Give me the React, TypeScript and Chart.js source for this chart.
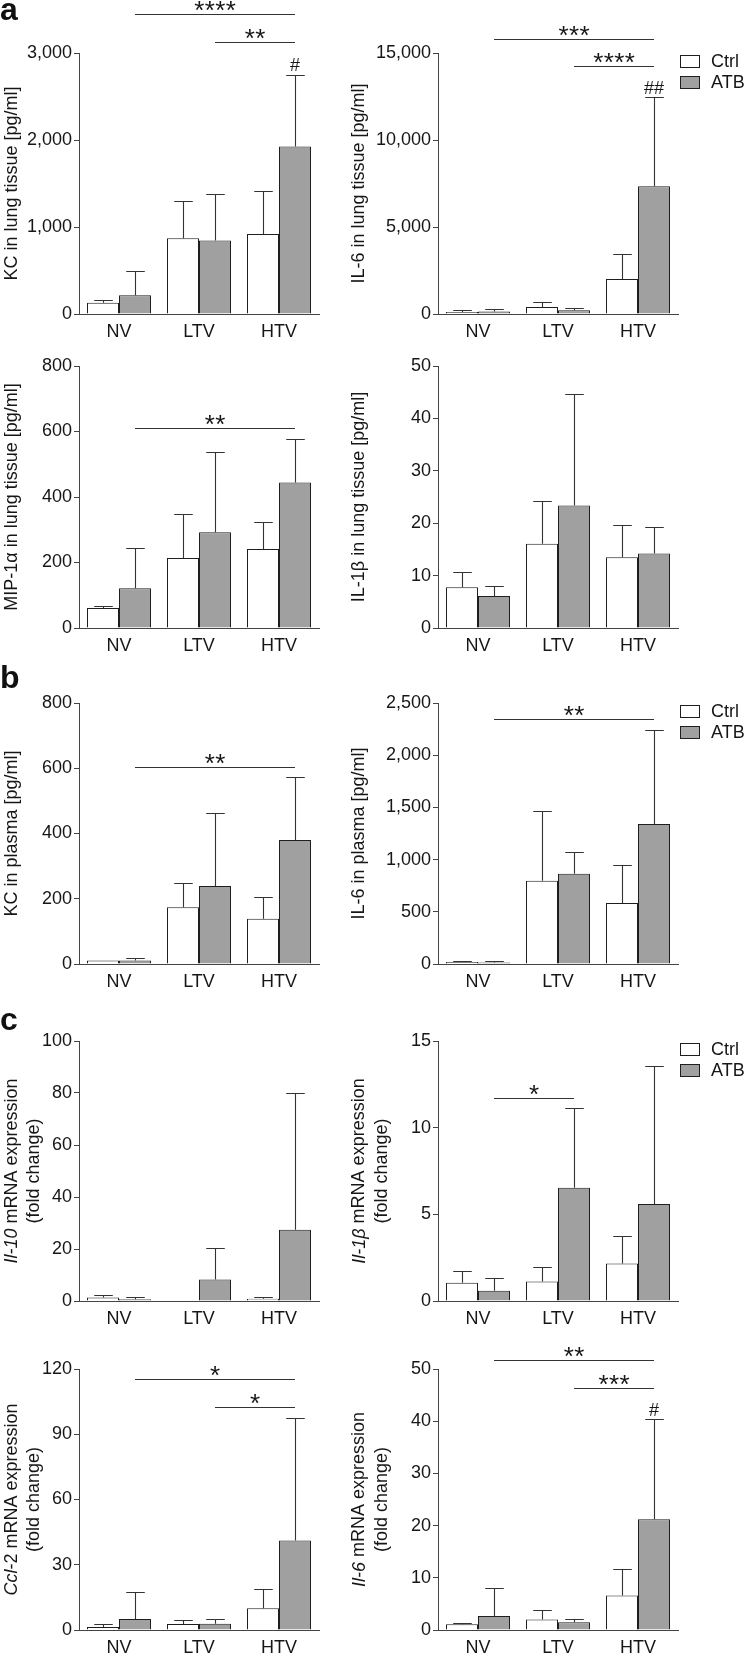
import React, { useEffect, useRef } from 'react';
import { Chart, registerables } from 'chart.js';

Chart.register(...registerables);

// ---------- data ----------
const categories = ['NV', 'LTV', 'HTV'];
const seriesLabels = ['Ctrl', 'ATB'];

// a: KC in lung tissue (bar = mean, top = mean + SD)
const kcLungCtrl = [130, 870, 920];
const kcLungCtrlTop = [160, 1300, 1410];
const kcLungAtb = [215, 845, 1925];
const kcLungAtbTop = [500, 1385, 2750];
const kcLungSig = [{ from: 0, to: 2, at: 3450, stars: 4 }, { from: 1, to: 2, at: 3125, stars: 2 }];

// a: IL-6 in lung tissue
const il6LungCtrl = [115, 400, 2010];
const il6LungCtrlTop = [230, 670, 3450];
const il6LungAtb = [150, 210, 7340];
const il6LungAtbTop = [290, 345, 12450];
const il6LungSig = [{ from: 0, to: 2, at: 15800, stars: 3 }, { from: 1, to: 2, at: 14250, stars: 4 }];

// a: MIP-1α in lung tissue
const mipLungCtrl = [61, 214, 241];
const mipLungCtrlTop = [66, 347, 324];
const mipLungAtb = [121, 292, 444];
const mipLungAtbTop = [243, 538, 578];
const mipLungSig = [{ from: 0, to: 2, at: 611, stars: 2 }];

// a: IL-1β in lung tissue
const il1bLungCtrl = [7.8, 16.1, 13.5];
const il1bLungCtrlTop = [10.6, 24.3, 19.7];
const il1bLungAtb = [6.1, 23.4, 14.2];
const il1bLungAtbTop = [8.1, 44.7, 19.3];

// b: KC in plasma
const kcPlasmaCtrl = [11, 174, 139];
const kcPlasmaCtrlTop = [13, 249, 206];
const kcPlasmaAtb = [11, 239, 380];
const kcPlasmaAtbTop = [17, 464, 572];
const kcPlasmaSig = [{ from: 0, to: 2, at: 604, stars: 2 }];

// b: IL-6 in plasma
const il6PlasmaCtrl = [18, 798, 584];
const il6PlasmaCtrlTop = [30, 1466, 951];
const il6PlasmaAtb = [15, 865, 1341];
const il6PlasmaAtbTop = [25, 1070, 2245];
const il6PlasmaSig = [{ from: 0, to: 2, at: 2347, stars: 2 }];

// c: Il-10 mRNA
const il10MrnaCtrl = [1.3, 0.15, 0.9];
const il10MrnaCtrlTop = [2.2, 0.15, 1.5];
const il10MrnaAtb = [0.7, 8.3, 27.4];
const il10MrnaAtbTop = [1.5, 20.3, 80.0];

// c: Il-1β mRNA
const il1bMrnaCtrl = [1.05, 1.13, 2.16];
const il1bMrnaCtrlTop = [1.74, 1.99, 3.74];
const il1bMrnaAtb = [0.59, 6.53, 5.59];
const il1bMrnaAtbTop = [1.34, 11.13, 13.54];
const il1bMrnaSig = [{ from: 0, to: 1, at: 11.7, stars: 1 }];

// c: Ccl-2 mRNA
const ccl2MrnaCtrl = [1.4, 2.8, 10.0];
const ccl2MrnaCtrlTop = [2.6, 4.6, 18.9];
const ccl2MrnaAtb = [5.1, 2.9, 41.2];
const ccl2MrnaAtbTop = [17.6, 4.9, 97.3];
const ccl2MrnaSig = [{ from: 0, to: 2, at: 115.4, stars: 1 }, { from: 1, to: 2, at: 102.5, stars: 1 }];

// c: Il-6 mRNA
const il6MrnaCtrl = [1.1, 2.0, 6.6];
const il6MrnaCtrlTop = [1.4, 3.9, 11.7];
const il6MrnaAtb = [2.7, 1.5, 21.2];
const il6MrnaAtbTop = [8.0, 2.2, 40.4];
const il6MrnaSig = [{ from: 0, to: 2, at: 51.7, stars: 2 }, { from: 1, to: 2, at: 46.4, stars: 3 }];

// ---------- styles / layout ----------
const FONT = '"Liberation Sans", Arial, Helvetica, sans-serif';
const TEXT = '#161616';
const AXIS = '#444444';
const EDGE = '#1e1e1e';
const ERR = '#333333';
const ATB_FILL = '#a0a0a0';
const CTRL_FILL = '#ffffff';

type Seg = { t: string; i?: boolean };
type Sig = { from: number; to: number; at: number; stars: number };
interface Panel {
  col: number; row: number; yMax: number; yStep: number;
  ctrl: number[]; ctrlTop: number[]; atb: number[]; atbTop: number[];
  title: Seg[][]; sigs: Sig[]; hash?: string; legend?: boolean;
}

const ROWS = [
  { cy: 0, ch: 345, T: 53, B: 314 },
  { cy: 345, ch: 315, T: 366, B: 628 },
  { cy: 660, ch: 335, T: 703, B: 964 },
  { cy: 995, ch: 335, T: 1041, B: 1301 },
  { cy: 1330, ch: 324, T: 1369, B: 1630 },
];
const COLS = [
  { cx: 0, cw: 345, L: 79, R: 319, titleX: [12, 34] },
  { cx: 345, cw: 403, L: 438, R: 678, titleX: [359.5, 382] },
];

const mrna = (name: string, rest: string): Seg[][] => [[{ t: name, i: true }, { t: rest }], [{ t: '(fold change)' }]];

const panels: Panel[] = [
  { col: 0, row: 0, yMax: 3000, yStep: 1000, ctrl: kcLungCtrl, ctrlTop: kcLungCtrlTop, atb: kcLungAtb, atbTop: kcLungAtbTop, title: [[{ t: 'KC in lung tissue [pg/ml]' }]], sigs: kcLungSig, hash: '#' },
  { col: 1, row: 0, yMax: 15000, yStep: 5000, ctrl: il6LungCtrl, ctrlTop: il6LungCtrlTop, atb: il6LungAtb, atbTop: il6LungAtbTop, title: [[{ t: 'IL-6 in lung tissue [pg/ml]' }]], sigs: il6LungSig, hash: '##', legend: true },
  { col: 0, row: 1, yMax: 800, yStep: 200, ctrl: mipLungCtrl, ctrlTop: mipLungCtrlTop, atb: mipLungAtb, atbTop: mipLungAtbTop, title: [[{ t: 'MIP-1α in lung tissue [pg/ml]' }]], sigs: mipLungSig },
  { col: 1, row: 1, yMax: 50, yStep: 10, ctrl: il1bLungCtrl, ctrlTop: il1bLungCtrlTop, atb: il1bLungAtb, atbTop: il1bLungAtbTop, title: [[{ t: 'IL-1β in lung tissue [pg/ml]' }]], sigs: [] },
  { col: 0, row: 2, yMax: 800, yStep: 200, ctrl: kcPlasmaCtrl, ctrlTop: kcPlasmaCtrlTop, atb: kcPlasmaAtb, atbTop: kcPlasmaAtbTop, title: [[{ t: 'KC in plasma [pg/ml]' }]], sigs: kcPlasmaSig },
  { col: 1, row: 2, yMax: 2500, yStep: 500, ctrl: il6PlasmaCtrl, ctrlTop: il6PlasmaCtrlTop, atb: il6PlasmaAtb, atbTop: il6PlasmaAtbTop, title: [[{ t: 'IL-6 in plasma [pg/ml]' }]], sigs: il6PlasmaSig, legend: true },
  { col: 0, row: 3, yMax: 100, yStep: 20, ctrl: il10MrnaCtrl, ctrlTop: il10MrnaCtrlTop, atb: il10MrnaAtb, atbTop: il10MrnaAtbTop, title: mrna('Il-10', ' mRNA expression'), sigs: [] },
  { col: 1, row: 3, yMax: 15, yStep: 5, ctrl: il1bMrnaCtrl, ctrlTop: il1bMrnaCtrlTop, atb: il1bMrnaAtb, atbTop: il1bMrnaAtbTop, title: mrna('Il-1β', ' mRNA expression'), sigs: il1bMrnaSig, legend: true },
  { col: 0, row: 4, yMax: 120, yStep: 30, ctrl: ccl2MrnaCtrl, ctrlTop: ccl2MrnaCtrlTop, atb: ccl2MrnaAtb, atbTop: ccl2MrnaAtbTop, title: mrna('Ccl', '-2 mRNA expression'), sigs: ccl2MrnaSig },
  { col: 1, row: 4, yMax: 50, yStep: 10, ctrl: il6MrnaCtrl, ctrlTop: il6MrnaCtrlTop, atb: il6MrnaAtb, atbTop: il6MrnaAtbTop, title: mrna('Il-6', ' mRNA expression'), sigs: il6MrnaSig, hash: '#' },
];

function centeredGlyphBaseline(ctx: CanvasRenderingContext2D, ch: string, centerY: number) {
  const m = ctx.measureText(ch);
  return centerY + (m.actualBoundingBoxAscent - m.actualBoundingBoxDescent) / 2;
}

function overlay(p: Panel) {
  const col = COLS[p.col];
  return {
    id: 'overlay',
    afterDatasetsDraw(chart: any) {
      const ctx: CanvasRenderingContext2D = chart.ctx;
      const ys = chart.scales.y;
      const ca = chart.chartArea;
      ctx.save();
      // error bars (upper only)
      [p.ctrlTop, p.atbTop].forEach((tops, d) => {
        const meta = chart.getDatasetMeta(d);
        meta.data.forEach((el: any, i: number) => {
          const top = Math.round(ys.getPixelForValue(tops[i])) + 0.5;
          const base = el.y;
          if (top >= base - 0.5) return;
          const x = Math.round(el.x) + 0.5;
          const half = el.width * 0.29;
          ctx.strokeStyle = ERR;
          ctx.lineWidth = 1.1;
          ctx.beginPath();
          ctx.moveTo(x, base);
          ctx.lineTo(x, top);
          ctx.moveTo(x - half, top);
          ctx.lineTo(x + half, top);
          ctx.stroke();
        });
      });
      const atbMeta = chart.getDatasetMeta(1);
      // significance lines
      p.sigs.forEach((s) => {
        const x1 = atbMeta.data[s.from].x;
        const x2 = atbMeta.data[s.to].x;
        const yy = Math.round(ys.getPixelForValue(s.at)) + 0.5;
        ctx.strokeStyle = ERR;
        ctx.lineWidth = 1.1;
        ctx.beginPath();
        ctx.moveTo(x1, yy);
        ctx.lineTo(x2, yy);
        ctx.stroke();
        ctx.fillStyle = TEXT;
        ctx.font = `26px ${FONT}`;
        ctx.textAlign = 'center';
        ctx.textBaseline = 'alphabetic';
        const base = centeredGlyphBaseline(ctx, '*', yy - 9);
        const step = 10.5;
        const xm = (x1 + x2) / 2;
        for (let k = 0; k < s.stars; k++) {
          ctx.fillText('*', xm + (k - (s.stars - 1) / 2) * step, base);
        }
      });
      // # marks above ATB HTV error bar
      if (p.hash) {
        const el = atbMeta.data[2];
        const top = ys.getPixelForValue(p.atbTop[2]);
        ctx.fillStyle = TEXT;
        ctx.font = `18px ${FONT}`;
        ctx.textAlign = 'center';
        ctx.textBaseline = 'alphabetic';
        const base = centeredGlyphBaseline(ctx, '#', top - 10);
        ctx.fillText(p.hash, el.x, base);
      }
      // y-axis titles (rotated, mixed italic)
      ctx.fillStyle = TEXT;
      ctx.textBaseline = 'middle';
      ctx.textAlign = 'left';
      const cyMid = (ca.top + ca.bottom) / 2;
      p.title.forEach((line, li) => {
        const tx = col.titleX[li] - col.cx;
        ctx.save();
        ctx.translate(tx, cyMid);
        ctx.rotate(-Math.PI / 2);
        const widths = line.map((sg) => {
          ctx.font = `${sg.i ? 'italic ' : ''}18px ${FONT}`;
          return ctx.measureText(sg.t).width;
        });
        const total = widths.reduce((a, b) => a + b, 0);
        let x = -total / 2;
        line.forEach((sg, k) => {
          ctx.font = `${sg.i ? 'italic ' : ''}18px ${FONT}`;
          ctx.fillText(sg.t, x, 0);
          x += widths[k];
        });
        ctx.restore();
      });
      // legend
      if (p.legend) {
        const fills = [CTRL_FILL, ATB_FILL];
        const offs = [2, 23];
        seriesLabels.forEach((lab, k) => {
          const bx = Math.round(ca.right) + 2.5;
          const by = Math.round(ca.top + offs[k]) + 0.5;
          ctx.fillStyle = fills[k];
          ctx.fillRect(bx, by, 19, 12);
          ctx.strokeStyle = EDGE;
          ctx.lineWidth = 1;
          ctx.strokeRect(bx, by, 19, 12);
          ctx.fillStyle = TEXT;
          ctx.font = `18px ${FONT}`;
          ctx.textAlign = 'left';
          ctx.textBaseline = 'middle';
          ctx.fillText(lab, ca.right + 33, by + 6.5);
        });
      }
      ctx.restore();
    },
  };
}

function PanelChart({ p }: { p: Panel }) {
  const ref = useRef<HTMLCanvasElement>(null);
  const row = ROWS[p.row];
  const col = COLS[p.col];
  useEffect(() => {
    const font = { family: FONT, size: 18 };
    const chart = new Chart(ref.current as HTMLCanvasElement, {
      type: 'bar',
      data: {
        labels: categories,
        datasets: [
          { label: seriesLabels[0], data: p.ctrl, backgroundColor: CTRL_FILL, borderColor: EDGE, borderWidth: 1, categoryPercentage: 0.8, barPercentage: 1, inflateAmount: 0 } as any,
          { label: seriesLabels[1], data: p.atb, backgroundColor: ATB_FILL, borderColor: EDGE, borderWidth: 1, categoryPercentage: 0.8, barPercentage: 1, inflateAmount: 0 } as any,
        ],
      },
      options: {
        responsive: false,
        animation: false,
        devicePixelRatio: 1,
        events: [],
        layout: { padding: { top: row.T - row.cy, right: col.cx + col.cw - col.R, left: 0, bottom: 0 } },
        plugins: { legend: { display: false }, tooltip: { enabled: false }, title: { display: false } },
        scales: {
          x: {
            type: 'category',
            offset: true,
            grid: { display: false, drawTicks: false },
            border: { display: true, color: AXIS, width: 1 },
            ticks: { font, color: TEXT, padding: 7, maxRotation: 0, autoSkip: false },
            afterFit: (s: any) => { s.height = row.cy + row.ch - row.B; },
          },
          y: {
            min: 0,
            max: p.yMax,
            ticks: { stepSize: p.yStep, padding: 2, font, color: TEXT, callback: (v: any) => Number(v).toLocaleString('en-US') },
            grid: { drawOnChartArea: false, drawTicks: true, tickLength: 5, color: AXIS, lineWidth: 1 },
            border: { display: true, color: AXIS, width: 1 },
            afterFit: (s: any) => { s.width = col.L - col.cx; },
          },
        },
      } as any,
      plugins: [overlay(p)],
    });
    return () => chart.destroy();
  }, []);
  return (
    <canvas
      ref={ref}
      width={col.cw}
      height={row.ch}
      style={{ position: 'absolute', left: col.cx, top: row.cy, width: col.cw, height: row.ch }}
    />
  );
}

const letterStyle = (top: number): React.CSSProperties => ({
  position: 'absolute', left: 0, top, font: `bold 32px ${FONT}`, lineHeight: '32px', color: '#111', margin: 0,
});

export default function App() {
  return (
    <div style={{ position: 'absolute', left: 0, top: 0, width: 748, height: 1654, background: '#fff', overflow: 'hidden' }}>
      {panels.map((p, i) => <PanelChart key={i} p={p} />)}
      <div style={letterStyle(-7)}>a</div>
      <div style={letterStyle(661)}>b</div>
      <div style={letterStyle(1003)}>c</div>
    </div>
  );
}
